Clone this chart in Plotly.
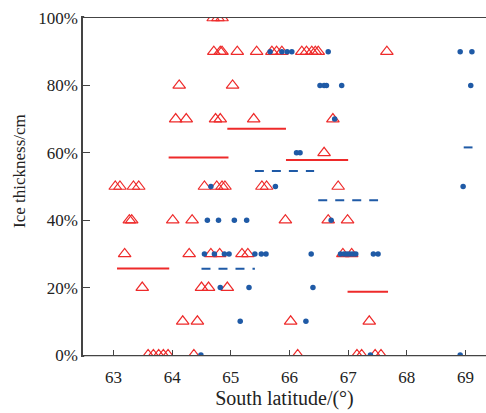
import plotly.graph_objects as go

# Red open triangles: (latitude, ice thickness %)
tri_lat = [64.70, 64.78, 64.85,
           64.71, 64.82, 64.85, 65.11, 65.44, 65.70, 65.78, 65.87, 66.21, 66.29, 66.38, 66.44, 66.49, 67.66,
           64.12, 65.03,
           64.06, 64.24, 64.74, 64.82, 65.39, 66.74,
           66.59,
           63.03, 63.11, 63.34, 63.43, 64.55, 64.76, 64.85, 64.90, 65.53, 65.61, 66.83,
           63.27, 63.31, 64.01, 64.34, 65.93, 66.66, 66.99,
           63.19, 64.29, 64.66, 64.81, 65.19, 65.29, 66.91, 67.06,
           63.49, 64.50, 64.62, 64.94,
           64.18, 64.43, 66.02, 67.36,
           63.59, 63.68, 63.77, 63.85, 63.93, 64.37, 66.14, 67.15, 67.23, 67.46, 67.56]
tri_pct = [100, 100, 100,
           90, 90, 90, 90, 90, 90, 90, 90, 90, 90, 90, 90, 90, 90,
           80, 80,
           70, 70, 70, 70, 70, 70,
           60,
           50, 50, 50, 50, 50, 50, 50, 50, 50, 50, 50,
           40, 40, 40, 40, 40, 40, 40,
           30, 30, 30, 30, 30, 30, 30, 30,
           20, 20, 20, 20,
           10, 10, 10, 10,
           0, 0, 0, 0, 0, 0, 0, 0, 0, 0, 0]

# Blue filled dots
dot_lat = [65.67, 65.87, 65.96, 66.04, 66.66, 68.91, 69.11,
           66.52, 66.59, 66.63, 66.89, 69.09,
           66.77,
           66.12, 66.18,
           64.66, 65.76, 68.96,
           64.60, 64.79, 65.06, 65.27, 66.71,
           64.55, 64.72, 64.89, 64.97, 65.41, 65.52, 65.60, 66.37,
           66.87, 66.93, 66.98, 67.03, 67.08, 67.13, 67.43, 67.51,
           64.82, 65.31, 66.40,
           65.16, 66.28,
           64.49, 67.38, 68.91]
dot_pct = [90, 90, 90, 90, 90, 90, 90,
           80, 80, 80, 80, 80,
           70,
           60, 60,
           50, 50, 50,
           40, 40, 40, 40, 40,
           30, 30, 30, 30, 30, 30, 30, 30,
           30, 30, 30, 30, 30, 30, 30, 30,
           20, 20, 20,
           10, 10,
           0, 0, 0]

# Mean lines (red solid, blue dashed): start lat, end lat, value %
red_start = [63.06, 63.94, 64.94, 65.94, 66.99]
red_end = [63.95, 64.96, 65.94, 67.00, 67.68]
red_val = [25.7, 58.6, 67.1, 57.9, 18.8]

blue_start = [64.50, 65.41, 66.49, 68.97]
blue_end = [65.41, 66.42, 67.51, 69.12]
blue_val = [25.6, 54.6, 45.9, 61.6]

x_ticks = [63, 64, 65, 66, 67, 68, 69]
y_ticks = [0, 20, 40, 60, 80, 100]
y_ticktext = ["0%", "20%", "40%", "60%", "80%", "100%"]

RED = "#EE2A2A"
BLUE = "#1F5AA6"
AX = "#444444"

fig = go.Figure()

for s, e, v in zip(red_start, red_end, red_val):
    fig.add_trace(go.Scatter(x=[s, e], y=[v, v], mode="lines",
                             line=dict(color=RED, width=2), showlegend=False,
                             hoverinfo="skip"))
for s, e, v in zip(blue_start, blue_end, blue_val):
    fig.add_trace(go.Scatter(x=[s, e], y=[v, v], mode="lines",
                             line=dict(color=BLUE, width=2, dash="9px,8px"),
                             showlegend=False, hoverinfo="skip"))

fig.add_trace(go.Scatter(x=tri_lat, y=tri_pct, mode="markers", cliponaxis=True,
                         marker=dict(symbol="triangle-up-open", size=11,
                                     color=RED, line=dict(width=1.2, color=RED)),
                         showlegend=False))
fig.add_trace(go.Scatter(x=dot_lat, y=dot_pct, mode="markers", cliponaxis=True,
                         marker=dict(symbol="circle", size=5.5, color=BLUE),
                         showlegend=False))

# mask marker parts spilling outside the plot frame (top and bottom)
MASK = "white"
fig.add_shape(type="rect", xref="paper", yref="paper", x0=0.003, x1=1.0,
              y0=1.003, y1=1.05, fillcolor=MASK, line=dict(width=0), layer="above")
fig.add_shape(type="rect", xref="paper", yref="paper", x0=0.003, x1=1.0,
              y0=-0.028, y1=-0.0035, fillcolor=MASK, line=dict(width=0), layer="above")

font = dict(family="Liberation Serif, Times New Roman, serif", size=17, color="#222222")

fig.update_layout(
    width=486, height=413,
    margin=dict(l=83, r=0, t=18, b=58),
    plot_bgcolor="white", paper_bgcolor="white",
    font=font,
    xaxis=dict(range=[62.48, 69.35], tickvals=x_ticks,
               ticks="inside", ticklen=5, tickwidth=1.3, tickcolor=AX,
               showline=True, linecolor=AX, linewidth=1.5, mirror=True,
               showgrid=False, zeroline=False, ticklabelstandoff=6,
               title=dict(text="South latitude/(°)", standoff=5),
               tickfont=dict(size=17)),
    yaxis=dict(range=[0, 100], tickvals=y_ticks, ticktext=y_ticktext,
               ticks="inside", ticklen=7, tickwidth=1.3, tickcolor=AX,
               showline=True, linecolor=AX, linewidth=1.5,
               showgrid=False, zeroline=False,
               tickfont=dict(size=17)),
    annotations=[dict(text="Ice thickness/cm", xref="paper", yref="paper",
                      x=(19 - 83) / 403, y=(355 - 171) / 337, xanchor="center",
                      yanchor="middle", textangle=-90, showarrow=False,
                      font=dict(size=17))],
)

fig.write_html("out.html")
